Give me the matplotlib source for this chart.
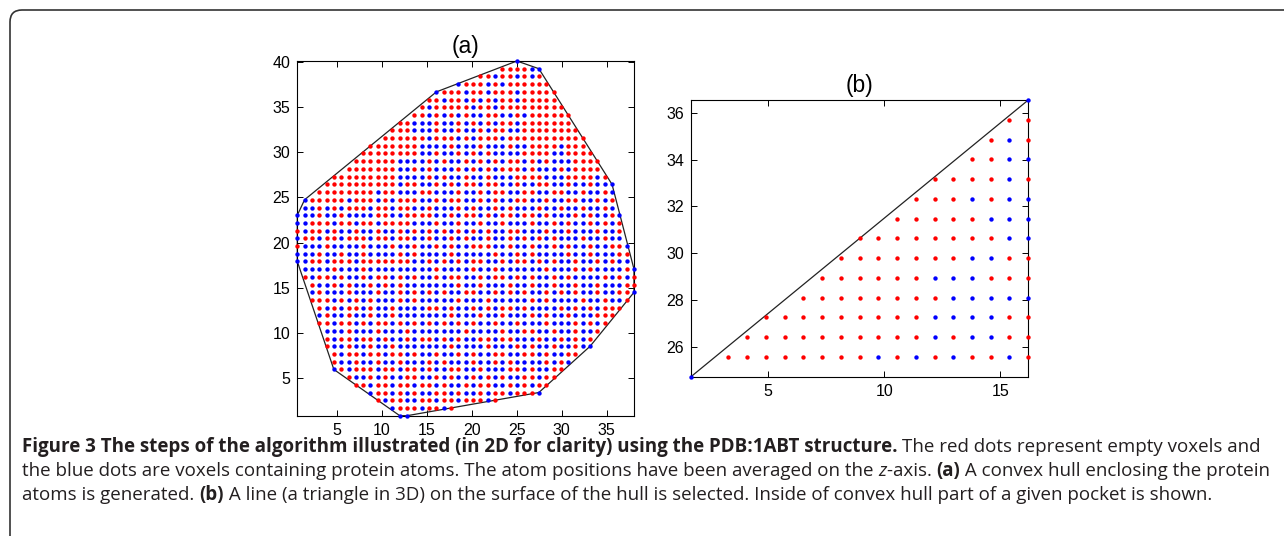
import numpy as np
from matplotlib import pyplot as plt
from matplotlib.path import Path
from matplotlib.patches import FancyBboxPatch

# ---- panel (a): voxel grid (columns / rows of the projected box) ----
xa = np.round(0.62 + 0.813 * np.arange(47), 2)
ya = np.round(0.87 + 0.852 * np.arange(47), 2)

# convex hull corners, as (column, row) voxel indices
hull_a = [(14, 0), (15, 0), (33, 3), (40, 9), (46, 16), (46, 19), (43, 30),
          (33, 45), (30, 46), (19, 42), (1, 28), (0, 26), (0, 20), (5, 6)]

# voxel colours, top row first; r = empty voxel, b = protein atom, . = none
rows_a = [
    "................" "..............b." "...............",
    "................" "............rrrr" "bb.............",
    "................" ".........rrbrrbr" "br.............",
    "................" "......brrrbrbrrr" "rrr............",
    "................" "...brrrbrrbrrrbr" "rrrr...........",
    "................" "..rrbrrbrbrbrrbr" "rrrr...........",
    "................" ".rbrrrrrbrrbrrrr" "rrrrr..........",
    "................" "rrbrbrbrbbrrbbrb" "rrrrrr.........",
    "..............rr" "bbbrbbrbrbrbrrbr" "rrrrrr.........",
    ".............rrr" "bbbrbbrbbrbrrbbr" "rrrrrrr........",
    "............rrrr" "rrbrrrbrbrrrbrrr" "rrrrrrrr.......",
    "..........rrrrrr" "rbbbbrbbbrbbbrbb" "rrrrbrrr.......",
    ".........rrrrrrr" "rbbrbbrbrbrbbbbr" "rrrbbrrrr......",
    "........rrrrrrbb" "bbrbrbbrbrbrbrrb" "rbrbbbrrrr.....",
    ".......rrrrrrrbb" "rbrbbbrbrbrbrrrb" "rbbbrbrrrr.....",
    ".....rrrrrrrrrbb" "bbrbrbbrbbrbbbrr" "rrbbbrrrrbr....",
    "....rrrrrrrrrrbr" "rbbrbrbrrbrrbbrb" "brrbbrbbrbbb...",
    "...rrrrrrrrbrrbb" "brrbbbrbbrbrrbbr" "rbbrrbbrbbrbr..",
    ".brrrrrbrrrbrbrr" "rbbrbrrbbrbrbbrr" "bbrbbrrbbrbrbr.",
    ".bbrbrbrrrbrrbrr" "bbrbbbrbrbbrbrbb" "brbbrbbrbbrbbrr",
    "bbbrbbrbbbbrrbbr" "rrrbbrbrrbrbrrbr" "rbrbbbrbrbbrbrr",
    "bbrrrbrrbrrbrrrr" "bbbrbbrbbrbbrbbb" "rbbrbrbbrbrbrrb",
    "rbrrbrbbrbbrbbrb" "rbrbrbrbrbrbbrrb" "bbrbbrbbbrbbrbr",
    "brrbrrbrrrbrrbrr" "bbrbbrbrbbrbbrbr" "brbrbbbrbbrbbrr",
    "rbbbrbbbbrbbbrbb" "rbbrbrbbrrrbbrbb" "rbbrbrbbrbbrrbb",
    "bbbrbbrbbrbbbbrb" "rbbbbrbbbbbrbbrb" "rbbbbrbbrbbbrrr",
    "bbrrbrrrbrrrrrrr" "bbrbrbrbrrbbrbrr" "brbrbbrbbrbrbbr",
    ".bbbbrbbbrbbbbbb" "bbbrbbbbrbbrbbbb" "bbrbbbrbrbbbbrb",
    ".rbrrbrbbrbrrbrb" "rbbrbrrbbrbrrbrb" "rbbrbrbbbbrbrbr",
    "..rbbrbrbbrbrbrb" "bbbbbbrbbrbbbrbb" "rbbrbbrbbrbbbrr",
    "..brbbbrbbbrbbrb" "rbrbrbbrrbbrbrbr" "bbrbrbrbbrbbrrb",
    "..rrrbrbrbrbbbrb" "rbbbbbrbbbrbbbbb" "rbrbbbbrbbrbbrr",
    "..rrbrbrrbrbbrbb" "bbrrbrbbrbrbrrbr" "bbbbrbrbrbrrr..",
    "...brbbrbbrbbrbb" "bbbbbrbbbrbbrbbb" "rbrbbrbbbrrrr..",
    "...rrbrrbrbrrbrb" "rbrbrbrbrbbrbbrb" "bbrbbbrbrbrr...",
    "...rbbbrbbbrbbbr" "bbbbbbbrbbbbrbbr" "rbbrbbrbbrr....",
    "...rrbrrbrrbrbbr" "brrbrbrbbrrbrrbb" "brbbrbrbrr.....",
    "....rbbrbbrbbrbb" "bbbbbrbbbbrbbbrb" "rbbrbbrbb......",
    "....rrbrrbrrbrrb" "rbbrbbrbrbbrrbbr" "rbrbbrrr.......",
    "....brbbrbbrbbrb" "bbrbrbbbrbbrbrbb" "bbrbrbr........",
    ".....brbrrrbrrbr" "rbrbbrrbbrbbbrrb" "rbbrrr.........",
    ".....rbrbbrbrbbr" "rbbrbrbbrbrbrbbr" "rbrr...........",
    "........rrbrrbrr" "brrbrbbrbrrbbrbr" "brr............",
    ".........rbrrbrb" "rbbrrbrbbrbrrbrr" "rb.............",
    "..........rrbrrb" "brrbrrbrrrbrrbrr" "...............",
    "............rbrr" "rbrrbrrbrrrbrrbr" "...............",
    "..............bb" "................" "...............",
]
assert all(len(r) == 47 for r in rows_a)

# ---- panel (b): zoom on one hull edge ----
xb = np.round(1.67 + 0.807 * np.arange(19), 2)
yb = np.round(24.72 + 0.845 * np.arange(15), 2)
rows_b = [
    "..................b",
    ".................rr",
    "................rbr",
    "...............rrbb",
    ".............rrrrbr",
    "............rrrbrbb",
    "...........rrrrrbbb",
    ".........rrrrrrrrbb",
    "........rrrrrrrbbrr",
    ".......rrrrrrbbbrrr",
    "......rrrrrrrrbbbbb",
    "....rrrrrrrrrbbbbrr",
    "...rrrrrrrrrrbrbbrr",
    "..rrrrrrrrbrbrbrrbr",
    "b..................",
]

xticks_a = [5, 10, 15, 20, 25, 30, 35]
yticks_a = [5, 10, 15, 20, 25, 30, 35, 40]
xticks_b = [5, 10, 15]
yticks_b = [26, 28, 30, 32, 34, 36]

W, H = 1284, 536
colors = {'r': '#ff0000', 'b': '#0000ff'}
plt.rcParams['font.family'] = ['Liberation Sans', 'DejaVu Sans']

fig = plt.figure(figsize=(W / 100, H / 100), dpi=100)


def style(ax):
    ax.tick_params(direction='in', length=4, width=0.7, top=True, right=True,
                   labelsize=11.5, pad=5)
    for s in ax.spines.values():
        s.set_linewidth(0.8)


def dots(ax, xs, ys, rows, keep=None):
    for c in 'rb':
        px, py = [], []
        for r, line in enumerate(rows):
            j = len(rows) - 1 - r
            for i, ch in enumerate(line):
                if ch != c:
                    continue
                if keep is not None and not keep(i, j):
                    continue
                px.append(xs[i])
                py.append(ys[j])
        ax.scatter(px, py, s=10, c=colors[c], linewidths=0, clip_on=False, zorder=3)


# panel (a)
axa = fig.add_axes([297.3 / W, 1 - 415.7 / H, 336.7 / W, 354.7 / H])
hull_path = Path(hull_a + [hull_a[0]], closed=True)


def in_hull(i, j):
    return hull_path.contains_point((i, j), radius=0.05) or hull_path.contains_point((i, j), radius=-0.05)


dots(axa, xa, ya, rows_a, in_hull)
hx = [xa[i] for i, j in hull_a] + [xa[hull_a[0][0]]]
hy = [ya[j] for i, j in hull_a] + [ya[hull_a[0][1]]]
axa.plot(hx, hy, color='#222222', lw=0.9, clip_on=False, zorder=2)
axa.set_xlim(xa[0], xa[-1])
axa.set_ylim(ya[0], ya[-1])
axa.set_xticks(xticks_a)
axa.set_yticks(yticks_a)
axa.set_title('(a)', fontsize=16.5, pad=6)
style(axa)

# panel (b)
axb = fig.add_axes([691 / W, 1 - 376.7 / H, 337.3 / W, 276.7 / H])
dots(axb, xb, yb, rows_b)
axb.plot([xb[0], xb[-1]], [yb[0], yb[-1]], color='#222222', lw=0.9, zorder=2)
axb.set_xlim(xb[0], xb[-1])
axb.set_ylim(yb[0], yb[-1])
axb.set_xticks(xticks_b)
axb.set_yticks(yticks_b)
axb.set_title('(b)', fontsize=16.5, pad=6)
style(axb)

# frame around the figure
frame = FancyBboxPatch((0.1, -0.5), 13.5, 5.76, boxstyle='round,pad=0,rounding_size=0.12',
                       transform=fig.dpi_scale_trans, fill=False, ec='#333333', lw=1.2)
fig.add_artist(frame)

# caption
cap_font = dict(family=['Open Sans', 'DejaVu Sans'], fontsize=13.5, color='#231f20')
renderer = fig.canvas.get_renderer()


def caption_line(y, parts):
    x = 22
    for txt, kw in parts:
        t = fig.text(x / W, 1 - y / H, txt, va='center', ha='left', **cap_font, **kw)
        x += t.get_window_extent(renderer).width


B = dict(weight='bold')
N = dict()
caption_line(447, [('Figure 3 The steps of the algorithm illustrated (in 2D for clarity) using the PDB:1ABT structure. ', B),
                   ('The red dots represent empty voxels and', N)])
caption_line(471, [('the blue dots are voxels containing protein atoms. The atom positions have been averaged on the ', N),
                   ('z', dict(style='italic')),
                   ('-axis. ', N), ('(a)', B), (' A convex hull enclosing the protein', N)])
caption_line(495, [('atoms is generated. ', N), ('(b)', B),
                   (' A line (a triangle in 3D) on the surface of the hull is selected. Inside of convex hull part of a given pocket is shown.', N)])

fig.savefig('out.png', dpi=100)
